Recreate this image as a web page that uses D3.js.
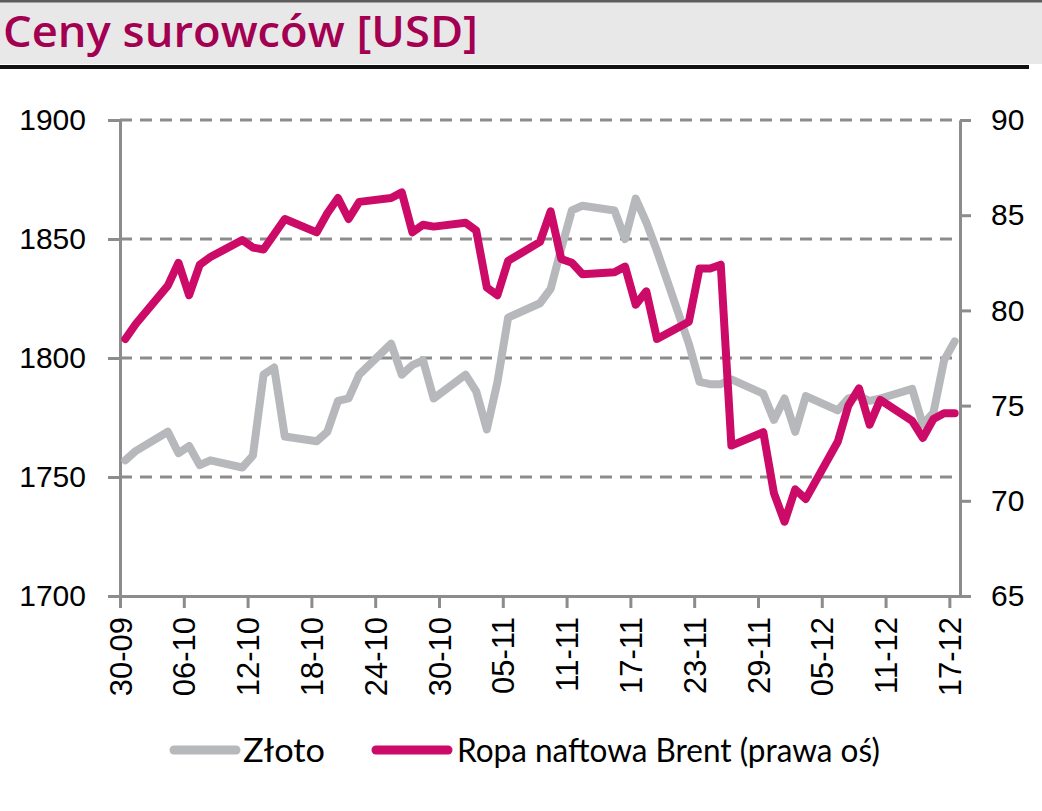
<!DOCTYPE html>
<html><head><meta charset="utf-8">
<script src="https://cdn.jsdelivr.net/npm/d3@7"></script>
<style>
html,body{margin:0;padding:0;background:#fff;}
svg{display:block;}
</style></head><body>
<svg id="chart" width="1042" height="811"></svg>
<script>
// ---- data ----
const title = "Ceny surowców [USD]";
const seriesNames = ["Złoto", "Ropa naftowa Brent (prawa oś)"];
const dates = [
  "2021-09-30","2021-10-01",
  "2021-10-04","2021-10-05","2021-10-06","2021-10-07","2021-10-08",
  "2021-10-11","2021-10-12","2021-10-13","2021-10-14","2021-10-15",
  "2021-10-18","2021-10-19","2021-10-20","2021-10-21","2021-10-22",
  "2021-10-25","2021-10-26","2021-10-27","2021-10-28","2021-10-29",
  "2021-11-01","2021-11-02","2021-11-03","2021-11-04","2021-11-05",
  "2021-11-08","2021-11-09","2021-11-10","2021-11-11","2021-11-12",
  "2021-11-15","2021-11-16","2021-11-17","2021-11-18","2021-11-19",
  "2021-11-22","2021-11-23","2021-11-24","2021-11-25","2021-11-26",
  "2021-11-29","2021-11-30","2021-12-01","2021-12-02","2021-12-03",
  "2021-12-06","2021-12-07","2021-12-08","2021-12-09","2021-12-10",
  "2021-12-13","2021-12-14","2021-12-15","2021-12-16","2021-12-17"
];
const gold = [
  1757, 1761,
  1769, 1760, 1763, 1755, 1757,
  1754, 1759, 1793, 1796, 1767,
  1765, 1769, 1782, 1783, 1793,
  1806, 1793, 1797, 1799, 1783,
  1793, 1786, 1770, 1790, 1817,
  1823, 1829, 1846, 1862, 1864,
  1862, 1850, 1867, 1857, 1845,
  1806, 1790, 1789, 1789, 1791,
  1785, 1774, 1783, 1769, 1784,
  1778, 1783, 1784, 1782, 1783,
  1787, 1772, 1777, 1799, 1807
];
const brent = [
  78.5, 79.3,
  81.3, 82.5, 80.8, 82.4, 82.8,
  83.7, 83.3, 83.2, 84.0, 84.8,
  84.1, 85.1, 85.9, 84.8, 85.7,
  85.9, 86.2, 84.1, 84.5, 84.4,
  84.6, 84.2, 81.2, 80.8, 82.6,
  83.6, 85.2, 82.7, 82.5, 81.9,
  82.0, 82.3, 80.3, 81.0, 78.5,
  79.4, 82.2, 82.2, 82.4, 72.9,
  73.6, 70.4, 68.9, 70.6, 70.1,
  73.1, 75.0, 75.9, 74.0, 75.3,
  74.2, 73.3, 74.3, 74.6, 74.6
];
const leftTicks = [1700, 1750, 1800, 1850, 1900];
const rightTicks = [65, 70, 75, 80, 85, 90];
const xTickLabels = ["30-09","06-10","12-10","18-10","24-10","30-10","05-11",
                     "11-11","17-11","23-11","29-11","05-12","11-12","17-12"];
const year = 2021;

// ---- chart ----
const W = 1042, H = 811;
const svg = d3.select("#chart");
const parse = d3.timeParse("%Y-%m-%d");
const parseTick = s => d3.timeParse("%d-%m-%Y")(s + "-" + year);
const P = {left: 120, right: 960, top: 120, bottom: 596};
const axisColor = "#8c8c8c";

const x = d3.scaleTime()
  .domain([parse("2021-09-30"), parse("2021-12-18")])
  .range([P.left, P.right]);
const yL = d3.scaleLinear().domain([1700, 1900]).range([P.bottom, P.top]);
const yR = d3.scaleLinear().domain([65, 90]).range([P.bottom, P.top]);
const mid = s => d3.timeHour.offset(parse(s), 12);

// header
svg.append("rect").attr("x", 0).attr("y", 0).attr("width", W).attr("height", 64).attr("fill", "#e8e8e8");
svg.append("rect").attr("x", 0).attr("y", 0).attr("width", W).attr("height", 2.5).attr("fill", "#5c5c5c");
svg.append("rect").attr("x", 0).attr("y", 65).attr("width", 1029).attr("height", 4).attr("fill", "#111");
svg.append("text")
  .attr("x", 3).attr("y", 47)
  .attr("font-family", "'Open Sans', 'DejaVu Sans', sans-serif")
  .attr("font-weight", 600)
  .attr("font-size", 43)
  .attr("fill", "#a30052")
  .attr("textLength", 475).attr("lengthAdjust", "spacingAndGlyphs")
  .text(title);

// gridlines
svg.append("g").selectAll("line")
  .data(leftTicks.filter(v => v !== 1700))
  .join("line")
  .attr("x1", P.left).attr("x2", P.right)
  .attr("y1", d => yL(d)).attr("y2", d => yL(d))
  .attr("stroke", axisColor).attr("stroke-width", 3)
  .attr("stroke-dasharray", "12 8");

function styleAxis(g) {
  g.select(".domain").attr("stroke", axisColor).attr("stroke-width", 3);
  g.selectAll(".tick line").attr("stroke", axisColor).attr("stroke-width", 3);
  g.selectAll(".tick text")
    .attr("fill", "#000")
    .attr("font-family", "'Liberation Sans', Arial, sans-serif")
    .attr("font-size", 30);
}

// left axis
const gL = svg.append("g").attr("transform", `translate(${P.left},0)`)
  .call(d3.axisLeft(yL).tickValues(leftTicks).tickSize(12).tickSizeOuter(0).tickPadding(22).tickFormat(d3.format("d")));
styleAxis(gL);

// right axis
const gR = svg.append("g").attr("transform", `translate(${P.right},0)`)
  .call(d3.axisRight(yR).tickValues(rightTicks).tickSize(11).tickSizeOuter(0).tickPadding(20).tickFormat(d3.format("d")));
styleAxis(gR);

// bottom axis
const gB = svg.append("g").attr("transform", `translate(0,${P.bottom})`)
  .call(d3.axisBottom(x).tickValues(xTickLabels.map(parseTick)).tickSize(12).tickSizeOuter(0)
    .tickFormat(d3.timeFormat("%d-%m")));
styleAxis(gB);
gB.selectAll(".tick text")
  .attr("transform", "rotate(-90)")
  .attr("text-anchor", "end")
  .attr("x", -21).attr("y", 0).attr("dy", "0.36em")
  .attr("font-size", 31);

// lines
const goldData = dates.map((d, i) => ({t: mid(d), v: gold[i]}));
const brentData = dates.map((d, i) => ({t: mid(d), v: brent[i]}));
const lineL = d3.line().x(d => x(d.t)).y(d => yL(d.v));
const lineR = d3.line().x(d => x(d.t)).y(d => yR(d.v));

svg.append("path").datum(goldData).attr("d", lineL)
  .attr("fill", "none").attr("stroke", "#b6b8bb").attr("stroke-width", 8)
  .attr("stroke-linejoin", "round").attr("stroke-linecap", "round");
svg.append("path").datum(brentData).attr("d", lineR)
  .attr("fill", "none").attr("stroke", "#cc0a68").attr("stroke-width", 8)
  .attr("stroke-linejoin", "round").attr("stroke-linecap", "round");

// legend
const legend = [
  {name: seriesNames[0], color: "#b6b8bb", x1: 174, x2: 236, tx: 243, tw: 82},
  {name: seriesNames[1], color: "#cc0a68", x1: 376, x2: 448, tx: 457, tw: 423}
];
const lg = svg.append("g");
legend.forEach(l => {
  lg.append("line").attr("x1", l.x1).attr("x2", l.x2).attr("y1", 750).attr("y2", 750)
    .attr("stroke", l.color).attr("stroke-width", 9).attr("stroke-linecap", "round");
  lg.append("text").attr("x", l.tx).attr("y", 762)
    .attr("font-family", "Lato, 'Open Sans', sans-serif").attr("font-size", 32)
    .attr("fill", "#000")
    .attr("textLength", l.tw).attr("lengthAdjust", "spacingAndGlyphs")
    .text(l.name);
});
</script>
</body></html>
